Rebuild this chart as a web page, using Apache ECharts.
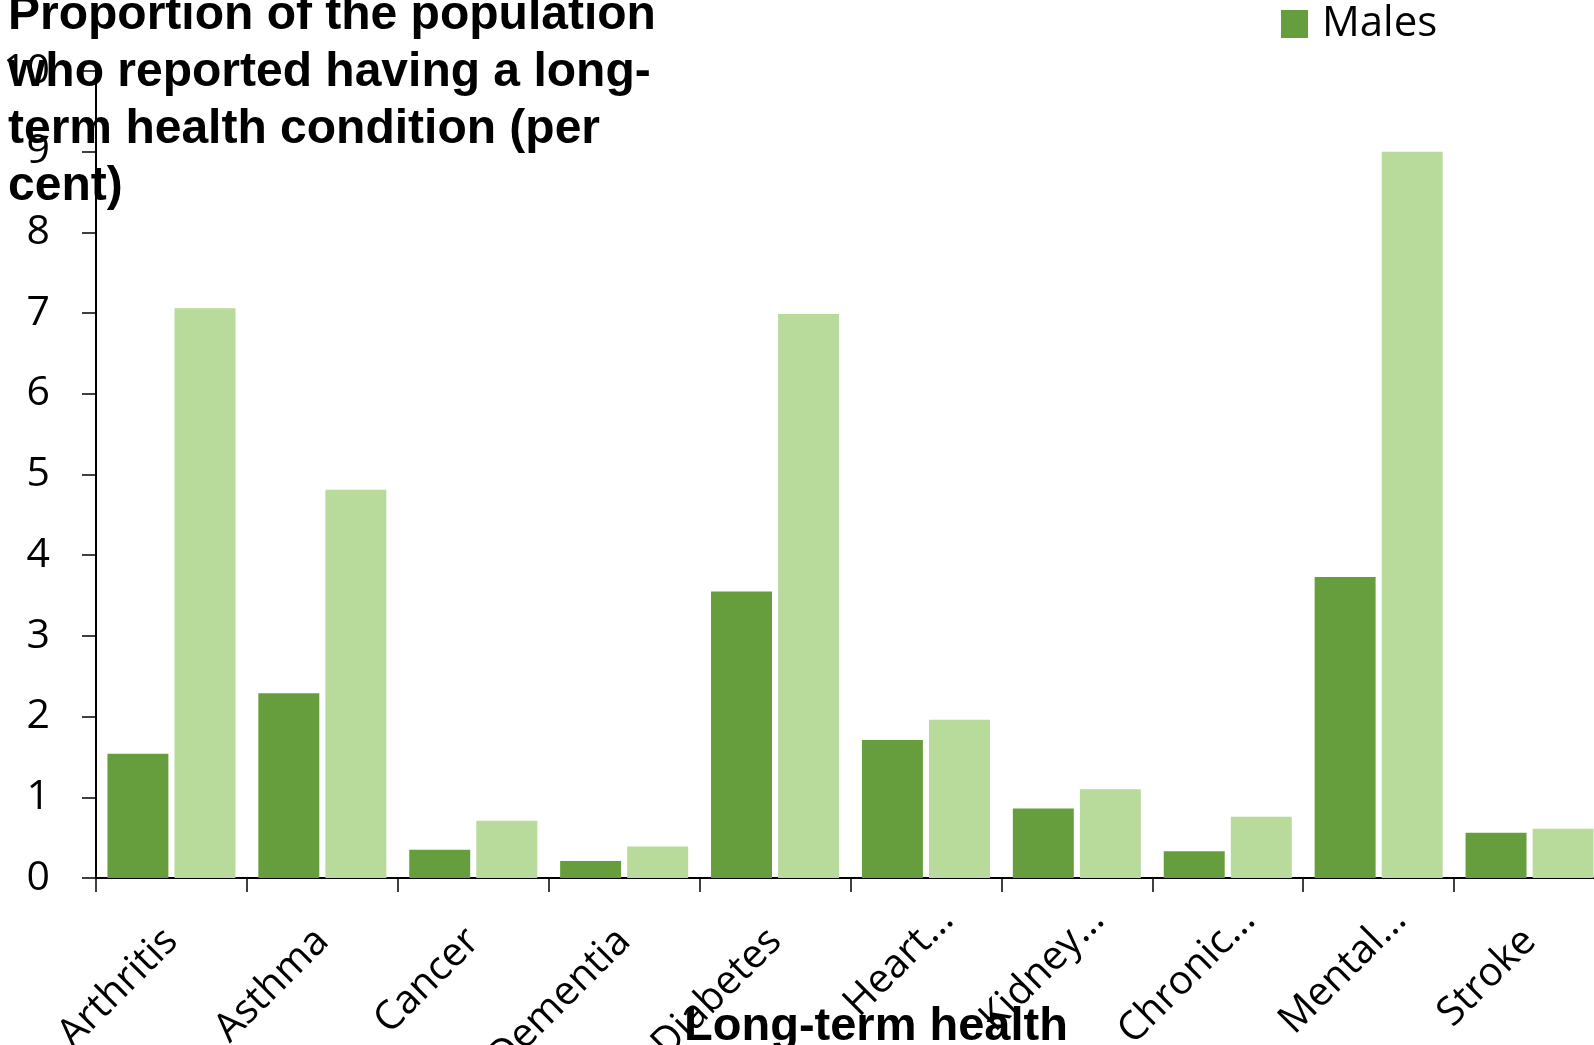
<!DOCTYPE html>
<html>
<head>
<meta charset="utf-8">
<script src="https://cdn.jsdelivr.net/npm/echarts@6/dist/echarts.min.js"></script>
<style>
  html, body { margin: 0; padding: 0; background: #ffffff; }
  #chart { width: 1594px; height: 1045px; }
</style>
</head>
<body>
<div id="chart"></div>
<script>
// Long-term health conditions, per cent of population
const categories = ['Arthritis', 'Asthma', 'Cancer', 'Dementia', 'Diabetes',
                    'Heart…', 'Kidney…', 'Chronic…', 'Mental…', 'Stroke'];
const males   = [1.54, 2.29, 0.35, 0.21, 3.55, 1.71, 0.86, 0.33, 3.73, 0.56];
const females = [7.06, 4.81, 0.71, 0.39, 6.99, 1.96, 1.10, 0.76, 9.00, 0.61];
const yTicks  = { min: 0, max: 10, interval: 1 };

const yTitle = 'Proportion of the population\nwho reported having a long-\nterm health condition (per\ncent)';
const xTitle = 'Long-term health';

const bodyFont = '"Open Sans", "Noto Sans", sans-serif';
const boldFont = '"Liberation Sans", Arial, sans-serif';

// shortened names carry their ellipsis past the tick position
const categoryItems = categories.map(function (name) {
  return name.endsWith('…')
    ? { value: name, textStyle: { padding: [0, -30, 0, 0] } }
    : name;
});

const chart = echarts.init(document.getElementById('chart'), null, { renderer: 'canvas' });

chart.setOption({
  animation: false,
  backgroundColor: '#ffffff',
  grid: {
    left: 96, top: 71, width: 1509, height: 807,
    containLabel: false, outerBoundsMode: 'none'
  },
  legend: {
    data: ['Males'],
    left: 1281, top: 3, padding: 0,
    itemWidth: 27, itemHeight: 28,
    icon: 'rect',
    textStyle: { fontFamily: bodyFont, fontSize: 42, color: '#000', padding: [0, 0, 0, 9] }
  },
  xAxis: {
    type: 'category',
    data: categoryItems,
    boundaryGap: true,
    axisLine: { show: true, lineStyle: { color: '#000', width: 2 } },
    axisTick: { show: true, length: 14, alignWithLabel: false, lineStyle: { color: '#000', width: 1.5 } },
    axisLabel: {
      interval: 0, rotate: 45, margin: 57,
      fontFamily: bodyFont, fontSize: 40, color: '#000'
    },
    splitLine: { show: false }
  },
  yAxis: {
    type: 'value',
    min: yTicks.min, max: yTicks.max, interval: yTicks.interval,
    axisLine: { show: true, lineStyle: { color: '#000', width: 2 } },
    axisTick: { show: true, length: 14, lineStyle: { color: '#000', width: 1.5 } },
    axisLabel: { margin: 46, fontFamily: bodyFont, fontSize: 41, color: '#000' },
    splitLine: { show: false }
  },
  series: [
    {
      name: 'Males', type: 'bar', data: males,
      barWidth: '40.4%', barGap: '10%',
      itemStyle: { color: '#669e3d' }
    },
    {
      name: 'Females', type: 'bar', data: females,
      barWidth: '40.4%', barGap: '10%',
      itemStyle: { color: '#b8da9b' }
    }
  ],
  graphic: [
    {
      type: 'text', x: 8, y: -13, z: 10,
      style: {
        text: yTitle,
        font: 'bold 48px ' + boldFont,
        lineHeight: 57,
        fill: '#000',
        textAlign: 'left', textVerticalAlign: 'top'
      }
    },
    {
      type: 'text', x: 876, y: 1027, z: 10,
      style: {
        text: xTitle,
        font: 'bold 47px ' + boldFont,
        fill: '#000',
        textAlign: 'center', textVerticalAlign: 'middle'
      }
    }
  ]
});
</script>
</body>
</html>
